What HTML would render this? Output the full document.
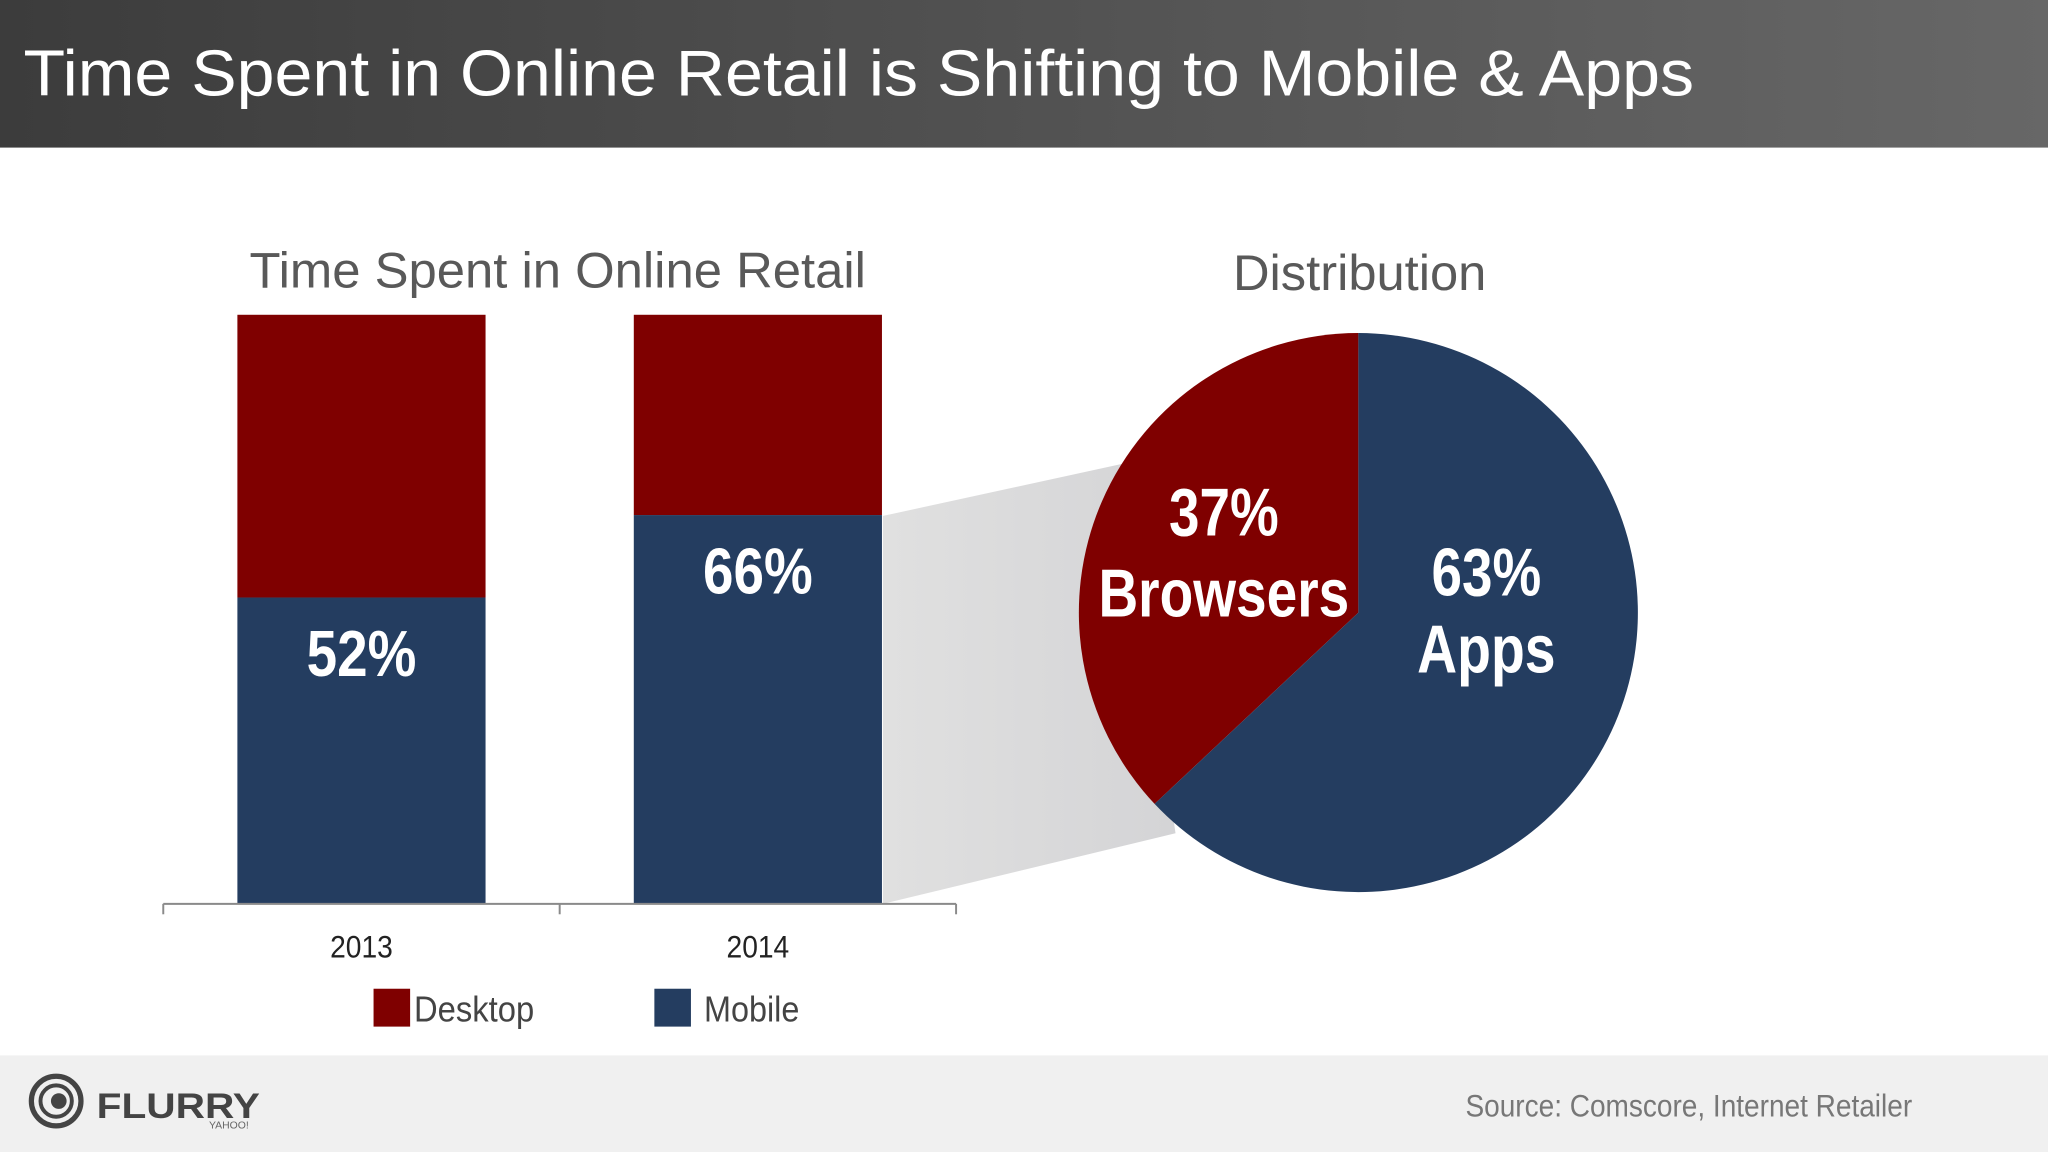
<!DOCTYPE html>
<html><head><meta charset="utf-8"><style>
html,body{margin:0;padding:0;background:#fff;}
svg{display:block;}
text{font-family:"Liberation Sans",Arial,sans-serif;}
</style></head><body>
<svg id="chart" width="2048" height="1152" viewBox="0 0 1568 882" preserveAspectRatio="none" xmlns="http://www.w3.org/2000/svg">
<defs>
<linearGradient id="hdr" x1="0" x2="1" y1="0" y2="0"><stop offset="0" stop-color="#3c3c3c"/><stop offset="1" stop-color="#676767"/></linearGradient>
<linearGradient id="conn" x1="0" x2="1" y1="0" y2="0"><stop offset="0" stop-color="#e0e0e0"/><stop offset="1" stop-color="#d4d4d6"/></linearGradient>
</defs>
<rect x="0" y="0" width="1568" height="113" fill="url(#hdr)"/>
<text x="18" y="73" font-size="50" fill="#fff" textLength="1279" lengthAdjust="spacingAndGlyphs">Time Spent in Online Retail is Shifting to Mobile &amp; Apps</text>
<rect x="0" y="808" width="1568" height="74" fill="#f0f0f0"/>
<g>
<circle cx="43" cy="843" r="19" fill="none" stroke="#444" stroke-width="4"/>
<circle cx="43" cy="843" r="12" fill="none" stroke="#444" stroke-width="3"/>
<circle cx="45" cy="843" r="6" fill="#444"/>
<text x="74" y="856" font-size="27" font-weight="bold" fill="#444" textLength="125" lengthAdjust="spacingAndGlyphs">FLURRY</text>
<text x="160" y="864" font-size="8" fill="#666">YAHOO!</text>
</g>
<text x="1122" y="855" font-size="24" fill="#777" textLength="342" lengthAdjust="spacingAndGlyphs">Source: Comscore, Internet Retailer</text>
<text x="427" y="220" font-size="38" fill="#595959" text-anchor="middle" textLength="472" lengthAdjust="spacingAndGlyphs">Time Spent in Online Retail</text>
<text x="1041" y="222" font-size="38" fill="#595959" text-anchor="middle" textLength="194" lengthAdjust="spacingAndGlyphs">Distribution</text>
<polygon points="676,395 860,355 900,638 676,692" fill="url(#conn)"/>
<g id="bars"></g>
<g id="axis"></g>
<g id="pie"></g>
<g>
<rect x="286" y="757" width="28" height="29" fill="#7f0000"/>
<text x="317" y="782" font-size="28" fill="#444" textLength="92" lengthAdjust="spacingAndGlyphs">Desktop</text>
<rect x="501" y="757" width="28" height="29" fill="#243d60"/>
<text x="539" y="782" font-size="28" fill="#444" textLength="73" lengthAdjust="spacingAndGlyphs">Mobile</text>
</g>
</svg>
<script>
const categories = ["2013", "2014"];
const mobileShare = [52, 66];
const pieLabels = ["Browsers", "Apps"];
const pieValues = [37, 63];

const NS = "http://www.w3.org/2000/svg";
const RED = "#7f0000", NAVY = "#243d60";
const plotTop = 241, plotBottom = 692, barW = 190;
const slotLeft = 125, slotW = 303.5;
function yScale(v){ return plotBottom - (plotBottom - plotTop) * v / 100; }
function xCenter(i){ return slotLeft + slotW * (i + 0.5); }
function mk(tag, attrs, parent){ const e = document.createElementNS(NS, tag); for (const k in attrs) e.setAttribute(k, attrs[k]); parent.appendChild(e); return e; }

const bars = document.getElementById("bars");
categories.forEach((c, i) => {
  const cx = xCenter(i), x = cx - barW / 2;
  const d = mk("rect", {x: x, y: yScale(100), width: barW, height: yScale(mobileShare[i]) - yScale(100), fill: RED}, bars);
  
  
  const m = mk("rect", {x: x, y: yScale(mobileShare[i]), width: barW, height: yScale(0) - yScale(mobileShare[i]), fill: NAVY}, bars);
  
  
  const t = mk("text", {x: cx, y: yScale(mobileShare[i]) + 60, "font-size": 50, "font-weight": "bold", fill: "#fff", "text-anchor": "middle", textLength: 84, lengthAdjust: "spacingAndGlyphs"}, bars);
  t.textContent = mobileShare[i] + "%";
  
  
});

const axis = document.getElementById("axis");
const al = mk("line", {x1: slotLeft, x2: slotLeft + slotW * categories.length, y1: plotBottom, y2: plotBottom, stroke: "#8a8a8a", "stroke-width": 1.5}, axis);


for (let i = 0; i <= categories.length; i++) {
  const tk = mk("line", {x1: slotLeft + slotW * i, x2: slotLeft + slotW * i, y1: plotBottom, y2: plotBottom + 8, stroke: "#8a8a8a", "stroke-width": 1.5}, axis);
  
  
}
categories.forEach((c, i) => {
  const t = mk("text", {x: xCenter(i), y: 733, "font-size": 24, fill: "#222", "text-anchor": "middle", textLength: 48, lengthAdjust: "spacingAndGlyphs"}, axis);
  t.textContent = c;
  
  
});

const pie = document.getElementById("pie");
const pcx = 1040, pcy = 469, pr = 214;
const total = pieValues.reduce((a, b) => a + b, 0);
const colors = [RED, NAVY];
// Browsers goes counter-clockwise from 12 o'clock; Apps fills the rest clockwise.
let start = 0;
const angs = [];
pieValues.forEach((v, i) => {
  const sweep = v / total * 2 * Math.PI;
  let a0, a1;
  if (i === 0) { a0 = -sweep; a1 = 0; } else { a0 = 0; a1 = sweep; }
  angs.push([a0, a1]);
  const p0 = [pcx + pr * Math.sin(a0), pcy - pr * Math.cos(a0)];
  const p1 = [pcx + pr * Math.sin(a1), pcy - pr * Math.cos(a1)];
  const large = sweep > Math.PI ? 1 : 0;
  const path = mk("path", {d: `M${pcx},${pcy} L${p0[0]},${p0[1]} A${pr},${pr} 0 ${large} 1 ${p1[0]},${p1[1]} Z`, fill: colors[i]}, pie);
  
  
});
const labelPos = [[937, 410, 472, 84, 192], [1138, 456, 515, 84, 106]];
pieValues.forEach((v, i) => {
  const [lx, y1, y2, w1, w2] = labelPos[i];
  const t1 = mk("text", {x: lx, y: y1, "font-size": 52, "font-weight": "bold", fill: "#fff", "text-anchor": "middle", textLength: w1, lengthAdjust: "spacingAndGlyphs"}, pie);
  t1.textContent = v + "%";
  
  
  const t2 = mk("text", {x: lx, y: y2, "font-size": 52, "font-weight": "bold", fill: "#fff", "text-anchor": "middle", textLength: w2, lengthAdjust: "spacingAndGlyphs"}, pie);
  t2.textContent = pieLabels[i];
  
  
});
</script>
</body></html>
